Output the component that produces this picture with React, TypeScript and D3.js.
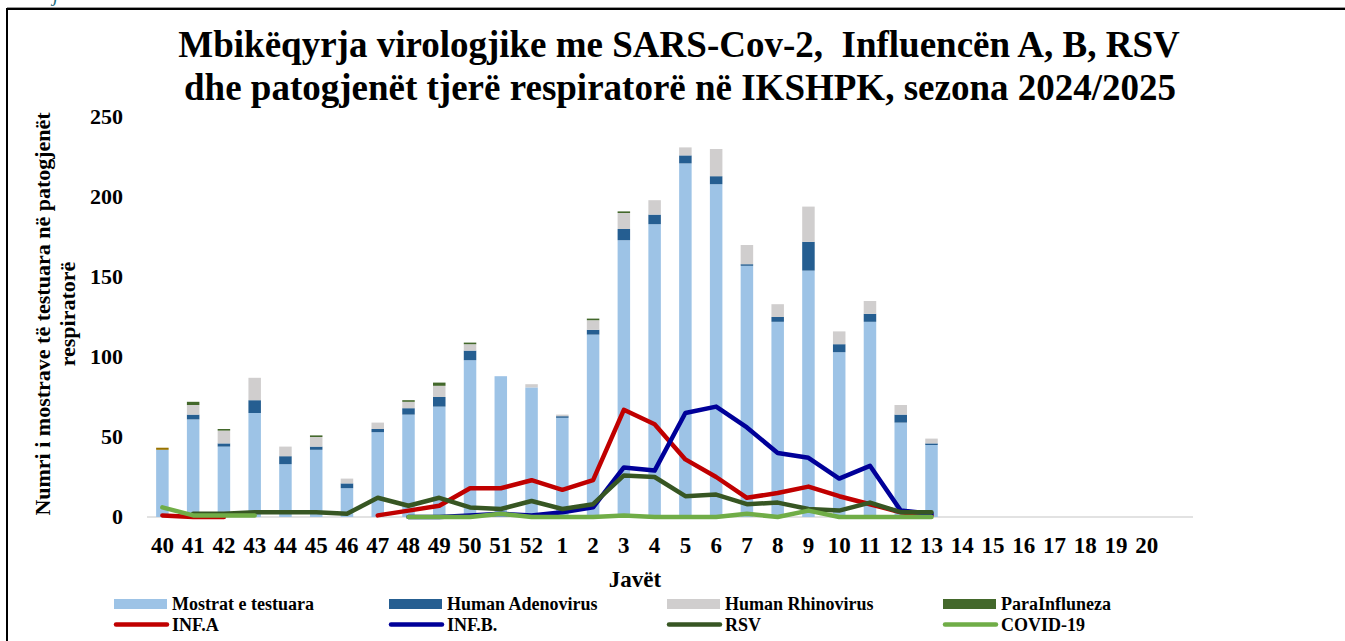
import React, { useEffect, useRef } from 'react';
import * as d3 from 'd3';

// week labels: 40..52 of 2024, 1..20 of 2025 (+ one empty slot at the end of the axis)
const weeks = [
  '40', '41', '42', '43', '44', '45', '46', '47', '48', '49', '50', '51', '52',
  '1', '2', '3', '4', '5', '6', '7', '8', '9', '10', '11', '12', '13',
  '14', '15', '16', '17', '18', '19', '20', ''
];

// stacked bars (weeks 40 .. 13)
const mostrat = [42, 61, 44, 65, 33, 42, 18, 53, 64, 69, 98, 88, 81, 62, 114, 173, 183, 221, 208, 157, 122, 154, 103, 122, 59, 45];
const adenovirus = [0, 3, 2, 8, 5, 2, 3, 2, 4, 6, 6, 0, 0, 1, 3, 7, 6, 5, 5, 1, 3, 18, 5, 5, 5, 1];
const rhinovirus = [0, 6, 8, 14, 6, 6, 3, 4, 4, 7, 4, 0, 2, 1, 6, 10, 9, 5, 17, 12, 8, 22, 8, 8, 6, 3];
const paraInfluenza = [0, 2, 1, 0, 0, 1, 0, 0, 1, 2, 1, 0, 0, 0, 1, 1, 0, 0, 0, 0, 0, 0, 0, 0, 0, 0];
const tjeret = [1.3, 0, 0, 0, 0, 0, 0, 0, 0, 0, 0, 0, 0, 0, 0, 0, 0, 0, 0, 0, 0, 0, 0, 0, 0, 0];

// lines (null = no value)
const infA = [1, 0, 0, null, null, null, null, 1, 4, 7, 18, 18, 23, 17, 23, 67, 58, 36, 25, 12, 15, 19, 13, 8, 3, 1];
const infB = [null, null, null, null, null, null, null, null, 0, 0, 1, 2, 1, 3, 6, 31, 29, 65, 69, 56, 40, 37, 24, 32, 4, 2];
const rsv = [null, 2, 2, 3, 3, 3, 2, 12, 7, 12, 6, 5, 10, 5, 8, 26, 25, 13, 14, 8, 9, 5, 4, 9, 3, 3];
const covid = [6, 1, 1, 1, null, null, null, null, 0, 0, 0, 2, 0, 0, 0, 1, 0, 0, 0, 2, 0, 4, 0, 0, 0, 0];

const yTicks = [0, 50, 100, 150, 200, 250];

const barSeries = [
  { key: 'mostrat', label: 'Mostrat e testuara', color: '#9DC3E6', values: mostrat },
  { key: 'adeno', label: 'Human Adenovirus', color: '#255E91', values: adenovirus },
  { key: 'rhino', label: 'Human Rhinovirus', color: '#D0CECE', values: rhinovirus },
  { key: 'para', label: 'ParaInfluneza', color: '#43682B', values: paraInfluenza },
  { key: 'tjeret', label: '', color: '#997300', values: tjeret }
];

const lineSeries = [
  { label: 'INF.A', color: '#C00000', values: infA },
  { label: 'INF.B.', color: '#000099', values: infB },
  { label: 'RSV', color: '#375623', values: rsv },
  { label: 'COVID-19', color: '#70AD47', values: covid }
];

const FONT = "'Liberation Serif', 'Times New Roman', serif";

const App: React.FC = () => {
  const svgRef = useRef<SVGSVGElement>(null);

  useEffect(() => {
    if (!svgRef.current) return;
    const width = 1345;
    const height = 641;

    const svg = d3.select(svgRef.current);
    svg.selectAll('*').remove();
    svg.attr('width', width).attr('height', height).style('font-family', FONT);

    svg.append('rect').attr('width', width).attr('height', height).attr('fill', '#fff');

    // frame of the page
    svg.append('line').attr('x1', 7).attr('x2', width).attr('y1', 7.5).attr('y2', 7.5)
      .attr('stroke', '#9a9a9a').attr('stroke-width', 1);
    svg.append('line').attr('x1', 6).attr('x2', width).attr('y1', 9).attr('y2', 9)
      .attr('stroke', '#000').attr('stroke-width', 2);
    svg.append('line').attr('x1', 7).attr('x2', 7).attr('y1', 8).attr('y2', height)
      .attr('stroke', '#000').attr('stroke-width', 2);
    // tail of a letter from the text above the frame (cut in the original too)
    svg.append('text').attr('x', 53).attr('y', 1).attr('fill', '#1F6F7F')
      .style('font-style', 'italic').style('font-size', '20px').text('j');

    const x = d3.scaleBand<string>().domain(weeks).range([147, 1193]).padding(0);
    const y = d3.scaleLinear().domain([0, 250]).range([517, 117]);
    const cx = (w: string) => (x(w) || 0) + x.bandwidth() / 2;
    const barW = 12.5;

    // title
    const title = svg.append('text').attr('text-anchor', 'middle')
      .style('font-size', '37px').style('font-weight', 'bold').style('white-space', 'pre');
    title.append('tspan').attr('x', 679).attr('y', 57)
      .text('Mbikëqyrja virologjike me SARS-Cov-2,  Influencën A, B, RSV');
    title.append('tspan').attr('x', 680).attr('y', 100)
      .text('dhe patogjenët tjerë respiratorë në IKSHPK, sezona 2024/2025');

    // baseline
    svg.append('line').attr('x1', 147).attr('x2', 1193).attr('y1', y(0)).attr('y2', y(0))
      .attr('stroke', '#D9D9D9').attr('stroke-width', 1.5);

    // stacked bars
    const rows = weeks.map((w, i) => {
      const r: any = { week: w };
      barSeries.forEach(s => { r[s.key] = s.values[i] || 0; });
      return r;
    });
    const stack = d3.stack<any>().keys(barSeries.map(s => s.key));
    const stacked = stack(rows);

    stacked.forEach((layer, li) => {
      svg.append('g').selectAll('rect')
        .data(layer.filter(d => d[1] - d[0] > 0))
        .enter()
        .append('rect')
        .attr('x', d => cx(d.data.week) - barW / 2)
        .attr('width', barW)
        .attr('y', d => y(d[1]))
        .attr('height', d => y(d[0]) - y(d[1]))
        .attr('fill', barSeries[li].color);
    });

    // lines
    lineSeries.forEach(s => {
      const pts = s.values.map((v, i) => ({ w: weeks[i], v }));
      const line = d3.line<{ w: string; v: number | null }>()
        .defined(d => d.v !== null)
        .x(d => cx(d.w))
        .y(d => y(d.v as number));
      svg.append('path')
        .attr('d', line(pts) || '')
        .attr('fill', 'none')
        .attr('stroke', s.color)
        .attr('stroke-width', 4.5)
        .attr('stroke-linejoin', 'round')
        .attr('stroke-linecap', 'round');
    });

    // y ticks
    svg.append('g').selectAll('text')
      .data(yTicks)
      .enter()
      .append('text')
      .attr('x', 123)
      .attr('y', d => y(d))
      .attr('dy', '0.33em')
      .attr('text-anchor', 'end')
      .style('font-size', '22px')
      .style('font-weight', 'bold')
      .text(d => d);

    // y title
    const yt = svg.append('text')
      .attr('transform', 'translate(0,314) rotate(-90)')
      .attr('text-anchor', 'middle')
      .style('font-size', '22px')
      .style('font-weight', 'bold');
    yt.append('tspan').attr('x', 0).attr('y', 50).text('Numri i mostrave të testuara në patogjenët');
    yt.append('tspan').attr('x', 0).attr('y', 75).text('respiratorë');

    // x labels
    svg.append('g').selectAll('text')
      .data(weeks.filter(w => w !== ''))
      .enter()
      .append('text')
      .attr('x', d => cx(d))
      .attr('y', 553)
      .attr('text-anchor', 'middle')
      .style('font-size', '23px')
      .style('font-weight', 'bold')
      .text(d => d);

    svg.append('text').attr('x', 635).attr('y', 587).attr('text-anchor', 'middle')
      .style('font-size', '23px').style('font-weight', 'bold').text('Javët');

    // legend
    const colX = [114, 389, 667, 943];
    barSeries.slice(0, 4).forEach((s, i) => {
      svg.append('rect').attr('x', colX[i]).attr('y', 599).attr('width', 53).attr('height', 10)
        .attr('fill', s.color);
      svg.append('text').attr('x', colX[i] + 58).attr('y', 610)
        .style('font-size', '18px').style('font-weight', 'bold').text(s.label);
    });
    lineSeries.forEach((s, i) => {
      svg.append('line').attr('x1', colX[i] + 2).attr('x2', colX[i] + 53)
        .attr('y1', 624.5).attr('y2', 624.5)
        .attr('stroke', s.color).attr('stroke-width', 4.5).attr('stroke-linecap', 'round');
      svg.append('text').attr('x', colX[i] + 58).attr('y', 631)
        .style('font-size', '18px').style('font-weight', 'bold').text(s.label);
    });
  }, []);

  return (
    <div style={{ position: 'absolute', left: 0, top: 0 }}>
      <svg ref={svgRef}></svg>
    </div>
  );
};

export default App;
